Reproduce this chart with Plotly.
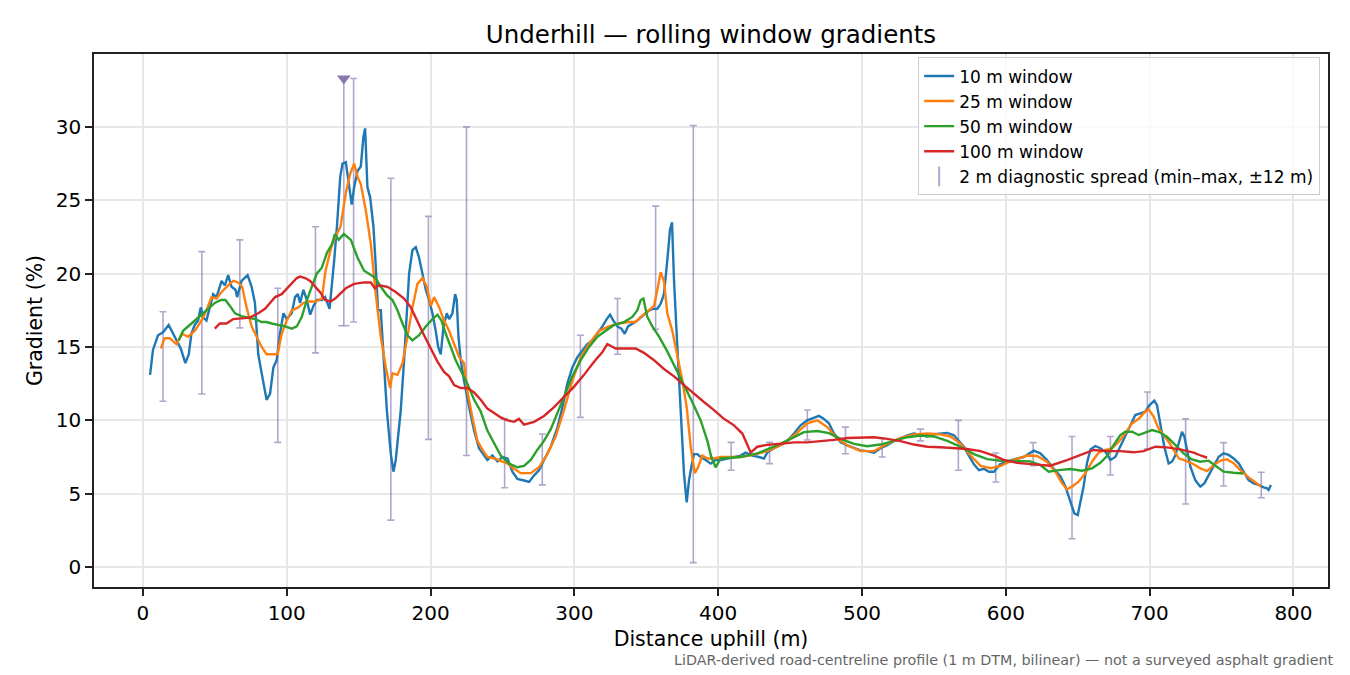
import plotly.graph_objects as go

# rolling window gradient profiles (distance in m, gradient in %)
x_10 = [5, 7, 10.5, 14, 17.9, 22, 26.3, 29.5, 31.9, 33.7, 36, 38.4, 40.2, 41.9, 44.2, 46.5, 48.8, 51.2, 52.8, 54.7,
        57, 59.3, 61.6, 64.4, 65.5, 68.6, 72.8, 75.6, 77.9, 80.2, 82.6, 86, 88.4, 90.7, 93, 95.3, 97.7, 100, 103.5,
        105.8, 107.7, 109.3, 111.6, 114, 116.3, 118.6, 121, 124.4, 126.7, 129.8, 133, 135, 137.2, 138.8, 141.1,
        143.4, 145.2, 146.9, 149.2, 151.5, 153.3, 154.5, 156.1, 158, 160.3, 161.9, 163.5, 165.4, 167.3, 169.6,
        172.4, 174.2, 175.8, 177.5, 179.3, 181.6, 183.5, 185.1, 187.4, 189.7, 192, 194.4, 196.7, 199, 201.3, 203.6,
        205.3, 207.1, 209, 211.3, 212.9, 215.2, 217.1, 218.2, 219.4, 221, 223.3, 226.8, 230.3, 233.7, 237.2, 239.5,
        243, 246.5, 250, 253.5, 256.9, 260.4, 265, 268.5, 272, 275.4, 278.9, 283.6, 288.2, 291.7, 295.1, 298.6,
        302.1, 305.6, 309, 312.5, 316, 319.5, 322.5, 324.8, 327.1, 329.9, 332.7, 335, 337.3, 340.3, 343.8, 347.3,
        350.7, 354.2, 357.7, 360, 362.3, 364.6, 366.5, 367.9, 369.3, 371.6, 373.9, 376.2, 378.1, 379.7, 381.3,
        383.2, 385.5, 387.8, 391.3, 394.8, 398.2, 401.7, 406.4, 411, 415.6, 419, 423.7, 428.3, 431.8, 434.1, 438.8,
        443.4, 448, 452.7, 457.3, 461.9, 466.6, 470.1, 473.5, 477, 480.5, 485.1, 489.7, 494.4, 499, 503.6, 508.3,
        512.9, 517.5, 522.2, 526.8, 531.5, 536.1, 540.7, 545.4, 550, 554.6, 559.3, 563.9, 567.4, 570.8, 574.3,
        577.8, 581.3, 584.7, 588.2, 591.7, 596, 605.5, 612.4, 619.4, 624, 628.6, 633.3, 637.9, 641.4, 644.9,
        647.6, 650, 651.8, 654.1, 656.4, 658.8, 662.2, 665.7, 669.2, 672.7, 676.1, 679.6, 683.1, 686.6, 690,
        693.5, 697, 700, 703.2, 705.1, 707.4, 710.2, 713.2, 715.5, 717.8, 720.2, 722.5, 724.1, 726, 728.3, 731.7,
        735.2, 738, 741, 744.5, 748, 751.4, 754.9, 758.4, 761.9, 765.3, 768.8, 772.3, 775.8, 779.2, 781.6, 782.7,
        784.3]
g_10 = [13.1, 14.8, 15.8, 16.0, 16.5, 15.7, 14.9, 13.9, 14.5, 15.9, 16.5, 16.8, 17.7, 17.0, 16.8, 17.7, 18.6, 18.4,
        18.9, 19.5, 19.2, 19.9, 19.1, 18.9, 18.4, 19.5, 19.9, 19.1, 18.0, 14.5, 13.2, 11.4, 11.8, 13.6, 14.1, 15.9,
        17.3, 16.9, 17.3, 18.4, 18.6, 18.0, 18.9, 18.2, 17.2, 17.8, 18.2, 18.2, 18.4, 17.6, 20.9, 23.3, 26.6, 27.5,
        27.6, 26.1, 24.7, 25.9, 27.0, 27.3, 29.3, 29.9, 25.9, 25.2, 23.2, 20.5, 17.5, 17.5, 14.1, 10.7, 7.7, 6.5,
        7.3, 8.9, 10.7, 14.1, 17.5, 20.0, 21.6, 21.8, 21.1, 20.0, 18.9, 18.2, 17.3, 16.1, 15.0, 14.5, 16.4, 17.3,
        16.9, 17.3, 18.6, 18.2, 15.7, 14.1, 12.7, 10.9, 9.3, 8.1, 7.6, 7.3, 7.6, 7.2, 7.5, 7.4, 6.5, 6.0, 5.9, 5.8,
        6.25, 6.6, 7.3, 8.2, 9.5, 10.9, 12.5, 13.6, 14.3, 14.8, 15.2, 15.45, 15.9, 16.4, 16.9, 17.2, 16.8, 16.4,
        16.25, 15.9, 16.4, 16.6, 16.8, 17.1, 17.4, 17.6, 17.6, 17.95, 18.6, 20.9, 23.0, 23.5, 19.5, 15.0, 10.45,
        6.4, 4.4, 5.9, 6.8, 7.7, 7.7, 7.5, 7.3, 7.05, 7.3, 7.3, 7.4, 7.5, 7.6, 7.8, 7.6, 7.5, 7.4, 7.8, 8.1, 8.3,
        8.6, 9.1, 9.66, 10.0, 10.2, 10.3, 10.1, 9.8, 9.1, 8.5, 8.3, 8.1, 7.95, 7.9, 7.8, 8.1, 8.3, 8.6, 8.8, 8.98,
        9.1, 8.98, 8.9, 9.05, 9.1, 9.14, 8.98, 8.6, 8.2, 7.6, 7.0, 6.6, 6.7, 6.5, 6.5, 7.0, 7.34, 7.5, 7.93, 7.75,
        7.3, 6.7, 6.2, 5.5, 4.5, 3.66, 3.55, 4.36, 5.5, 7.07, 8.02, 8.25, 8.1, 7.86, 7.3, 7.5, 8.2, 8.88, 9.67,
        10.36, 10.47, 10.6, 11.04, 11.34, 11.04, 9.8, 8.2, 7.06, 7.18, 7.6, 8.43, 9.22, 8.9, 7.97, 6.84, 5.93,
        5.48, 5.7, 6.27, 6.95, 7.52, 7.75, 7.64, 7.4, 7.07, 6.5, 5.93, 5.7, 5.6, 5.43, 5.36, 5.25, 5.6]

x_25 = [12.5, 15.1, 18.6, 23.3, 27.2, 31.4, 36, 40.7, 44.2, 47.7, 51.2, 54.7, 59.3, 62.8, 66.3, 69, 72.1, 75.6, 79.1,
        82.6, 86, 90.7, 93.7, 96.5, 100, 103.5, 108.1, 111.6, 115.1, 119.8, 124.4, 127, 131, 133.7, 137.4, 141.1,
        144.1, 146.9, 149.2, 151.5, 155, 158.5, 161.9, 165.4, 168.9, 171.9, 173.5, 177, 180.5, 183.9, 187.4,
        190.9, 194.4, 197.4, 200.2, 202.5, 206, 209.4, 212.9, 216.4, 219.9, 223.3, 225.6, 229.1, 232.6, 236,
        239.5, 244.2, 248.8, 253.5, 258.1, 262.7, 269.7, 275.4, 281.2, 287, 292.8, 298.6, 304.4, 310.2, 317.2,
        324.1, 331.1, 338, 342.6, 346.1, 350.7, 355.4, 357.7, 360, 362.3, 364.6, 368.1, 371.6, 375.1, 378.1,
        380.9, 383.7, 386, 389, 392.5, 397.1, 401.7, 411, 415.6, 424.9, 434.1, 443.4, 452.7, 461.9, 468.9, 475.8,
        482.8, 489.7, 499, 508.3, 517.5, 526.8, 536.1, 545.4, 554.6, 561.6, 568.5, 575.5, 582.4, 589.4, 596.3,
        605.5, 614.8, 621.7, 628.6, 634.4, 639.1, 642.5, 646, 650.6, 655.3, 659.9, 664.6, 669.2, 673.8, 678.5,
        683.1, 687.7, 692.4, 697, 699.3, 702.8, 706.2, 709.7, 713.2, 716.7, 720.2, 724.8, 729.4, 735.2, 739.9,
        744.5, 749.1, 753.8, 758.4, 763, 768.8, 774.6, 777.5]
g_25 = [14.9, 15.6, 15.6, 15.2, 15.9, 15.7, 16.1, 16.8, 17.5, 18.4, 18.3, 18.75, 19.2, 19.5, 19.4, 19.1, 17.7, 16.4,
        15.7, 15.0, 14.5, 14.5, 14.5, 15.9, 16.8, 17.5, 17.7, 18.0, 18.1, 18.1, 18.3, 20.2, 21.8, 22.5, 23.2, 25.5,
        26.8, 27.5, 26.6, 26.1, 24.3, 22.0, 18.6, 15.7, 13.6, 12.2, 13.2, 13.1, 13.9, 15.7, 17.7, 19.3, 19.7, 19.1,
        17.8, 18.4, 17.7, 16.8, 16.1, 15.2, 14.3, 13.9, 12.0, 10.2, 8.6, 8.0, 7.5, 7.4, 7.25, 7.05, 6.7, 6.4, 6.4,
        6.8, 7.7, 8.9, 10.7, 12.7, 14.3, 15.2, 16.1, 16.4, 16.6, 16.7, 16.7, 17.05, 17.4, 17.8, 18.9, 20.1, 19.5,
        17.3, 16.1, 14.5, 12.7, 10.9, 8.2, 6.4, 6.8, 7.6, 7.4, 7.4, 7.5, 7.5, 7.5, 7.66, 7.9, 8.3, 8.97, 9.8, 10.0,
        9.54, 8.74, 8.3, 7.9, 7.9, 8.4, 8.8, 9.04, 9.1, 9.04, 8.9, 8.4, 7.6, 6.9, 6.74, 6.9, 7.3, 7.6, 7.57, 7.18,
        6.5, 5.7, 5.3, 5.48, 5.82, 6.39, 7.18, 7.8, 7.98, 8.09, 8.54, 9.11, 9.79, 10.1, 10.6, 10.75, 10.25, 9.45,
        9.0, 8.54, 7.98, 7.41, 7.25, 7.07, 6.73, 6.54, 6.95, 7.25, 7.34, 7.07, 6.61, 6.11, 5.7, 5.48]

x_50 = [25, 27.9, 32.6, 36, 40.7, 45.3, 50, 54.2, 57.4, 60.5, 64, 68.6, 73.3, 77.9, 82.6, 86, 89.5, 94.2, 98.8, 103.5,
        107, 110.5, 114, 117.4, 120.9, 124.4, 127.9, 131.4, 133.5, 136.2, 139.7, 144.6, 149.2, 153.8, 158.5,
        161.9, 165.4, 170, 173.5, 177, 180.5, 183.9, 187.4, 192, 196.7, 201.3, 204.8, 207.6, 210.6, 214, 217.5,
        221, 225.6, 230.3, 234.9, 239.5, 244.2, 248.8, 254.6, 260.4, 265, 269.7, 274.3, 278.9, 283.6, 288.2,
        292.8, 298.6, 304.4, 310.2, 316, 321.8, 327.6, 334.5, 340.3, 343.8, 346.1, 348, 350.7, 354.2, 358.9,
        364.6, 370.4, 376.2, 382, 387.8, 392.5, 395.2, 398.2, 401.7, 408.7, 415.6, 427.2, 438.8, 450.4, 459.6,
        468.9, 477, 485.1, 494.4, 503.6, 512.9, 522.2, 531.5, 540.7, 550, 559.3, 568.5, 577.8, 587.1, 596.3,
        605.5, 617, 624, 629.8, 636.7, 644.9, 652.9, 659.9, 665.7, 670.3, 675, 679.6, 683.1, 687.7, 692.4, 697,
        701.6, 706.2, 712, 717.8, 723.6, 729.4, 735.2, 741, 746.8, 751.4, 758.4, 765]
g_50 = [15.45, 16.1, 16.5, 16.8, 17.2, 17.6, 18.0, 18.2, 18.2, 17.8, 17.3, 17.1, 17.0, 16.9, 16.7, 16.7, 16.6, 16.5,
        16.4, 16.25, 16.4, 17.05, 18.2, 19.1, 20.0, 20.4, 21.4, 22.0, 22.7, 22.3, 22.7, 22.3, 21.1, 20.2, 19.9,
        19.7, 19.1, 18.5, 18.2, 17.5, 16.6, 15.8, 15.45, 15.8, 16.4, 16.9, 17.2, 16.8, 15.9, 15.0, 14.1, 13.4,
        12.5, 11.4, 10.6, 9.3, 8.4, 7.6, 7.05, 6.8, 6.9, 7.3, 8.0, 8.6, 9.4, 10.45, 11.6, 13.0, 14.1, 15.0, 15.7,
        16.1, 16.5, 16.7, 17.05, 17.5, 18.2, 18.3, 17.05, 16.4, 15.7, 14.7, 13.5, 12.4, 11.25, 10.0, 8.6, 7.5,
        6.8, 7.4, 7.45, 7.5, 7.75, 8.2, 8.74, 9.2, 9.27, 9.13, 8.74, 8.4, 8.23, 8.35, 8.6, 8.85, 8.97, 8.9, 8.6,
        8.2, 7.7, 7.36, 7.25, 7.22, 7.2, 6.95, 6.5, 6.61, 6.68, 6.57, 6.73, 7.11, 7.57, 8.32, 9.0, 9.22, 9.22,
        9.0, 9.16, 9.34, 9.22, 8.88, 8.32, 7.75, 7.34, 7.18, 7.25, 6.84, 6.5, 6.43, 6.38]

x_100 = [50, 53.5, 58.1, 62.8, 68.6, 74.4, 80.2, 84.9, 88.4, 91.9, 96.5, 101.2, 104.7, 107, 109.3, 112.8, 116.3,
         119.8, 123.5, 126.7, 130.5, 133.7, 137, 141.1, 146.9, 153.8, 158.5, 161.2, 164.2, 170, 175.8, 181.6,
         186.3, 190.9, 195.5, 200.2, 204.8, 209.4, 212.9, 216.4, 221, 225.6, 230.3, 234.9, 239.5, 244.2, 248.8,
         253.5, 258.1, 261.5, 265, 272, 278.9, 285.9, 292.8, 299.8, 306.7, 313.7, 319.5, 322.9, 328.7, 335.7,
         342.6, 348.4, 355.4, 362.3, 369.3, 376.2, 383.2, 390.1, 397.1, 404, 411, 416.8, 419.5, 422.6, 427.2,
         434.1, 443.4, 452.7, 461.9, 471.2, 480.5, 489.7, 499, 508.3, 517.5, 526.8, 536.1, 545.4, 554.6, 563.9,
         573.1, 582.4, 591.7, 598.6, 607.8, 619.4, 630.9, 642.5, 651.8, 661.1, 670.3, 679.6, 688.9, 695.8, 703.9,
         712, 721.3, 730.6, 736.4, 740]
g_100 = [16.25, 16.6, 16.6, 16.9, 16.95, 17.0, 17.3, 17.6, 18.0, 18.4, 18.6, 19.1, 19.4, 19.7, 19.8, 19.7, 19.5,
         19.1, 18.7, 18.2, 18.1, 18.3, 18.6, 19.0, 19.3, 19.4, 19.4, 19.0, 19.2, 19.1, 18.75, 18.3, 17.7, 16.7,
         15.8, 14.9, 14.0, 13.3, 13.0, 12.4, 12.2, 12.2, 11.9, 11.4, 10.8, 10.5, 10.2, 10.0, 9.9, 10.1, 9.7, 9.9,
         10.3, 10.9, 11.6, 12.3, 13.1, 14.0, 14.65, 15.2, 14.9, 14.9, 14.9, 14.6, 14.1, 13.5, 13.0, 12.4, 11.8,
         11.25, 10.7, 10.1, 9.66, 9.1, 8.5, 7.8, 8.2, 8.33, 8.4, 8.5, 8.5, 8.56, 8.67, 8.8, 8.85, 8.85, 8.74, 8.58,
         8.35, 8.2, 8.17, 8.12, 8.05, 7.9, 7.6, 7.3, 7.1, 7.0, 6.91, 7.29, 7.64, 7.98, 7.9, 7.9, 7.82, 7.9, 8.2,
         8.16, 8.02, 7.8, 7.57, 7.45]

# 2 m diagnostic spread (min / max within +-12 m)
spread_x = [14, 41, 67.4, 93.8, 120, 146.5, 172.4, 198.5, 225, 251.5, 277.7, 304.2, 330, 356.5, 382.7, 409,
            435.7, 462, 488.5, 514, 540.6, 567, 593, 619, 646, 672.7, 698.4, 725, 751.4, 777.6]
spread_lo = [11.3, 11.8, 16.3, 8.5, 14.6, 16.7, 3.2, 8.7, 7.6, 5.4, 5.6, 10.2, 14.5, 16.2, 0.3, 6.6, 7.05, 8.66,
             7.72, 7.5, 8.6, 6.6, 5.8, 6.9, 1.93, 6.27, 8.04, 4.3, 5.52, 4.72]
spread_hi = [17.4, 21.5, 22.3, 19.0, 23.2, 33.3, 26.5, 23.9, 30.0, 10.1, 9.07, 15.8, 18.3, 24.6, 30.1, 8.5, 8.5,
             10.7, 9.54, 8.77, 9.4, 10.0, 7.77, 8.48, 8.9, 8.9, 11.93, 10.1, 8.48, 6.46]

# the one spread that runs off the top (flagged with a triangle)
flag_x = 139.7
flag_lo = 16.45
flag_hi = 33.3

series = [
    (x_10, g_10, "10 m window", "#1f77b4"),
    (x_25, g_25, "25 m window", "#ff7f0e"),
    (x_50, g_50, "50 m window", "#2ca02c"),
    (x_100, g_100, "100 m window", "#d62728"),
]
spread_col = "rgba(125,108,170,0.6)"
flag_col = "#8878ad"

fig = go.Figure()

spread_mid = [(a + b) / 2 for a, b in zip(spread_lo, spread_hi)]
spread_half = [(b - a) / 2 for a, b in zip(spread_lo, spread_hi)]
fig.add_trace(go.Scatter(
    x=spread_x, y=spread_mid, mode="markers",
    marker=dict(size=1, opacity=0),
    error_y=dict(type="data", array=spread_half, color=spread_col, thickness=1.6, width=3.5),
    showlegend=False, hoverinfo="skip"
))
fig.add_trace(go.Scatter(
    x=[flag_x, flag_x], y=[flag_lo, flag_hi], mode="lines",
    line=dict(color=spread_col, width=1.6), showlegend=False, hoverinfo="skip"
))
fig.add_trace(go.Scatter(
    x=[flag_x], y=[flag_lo], mode="markers",
    marker=dict(symbol="line-ew-open", size=8, color=spread_col, line=dict(color=spread_col, width=1.6)),
    showlegend=False, hoverinfo="skip"
))

for xs, ys, name, col in series:
    fig.add_trace(go.Scatter(
        x=xs, y=ys, mode="lines", name=name,
        line=dict(color=col, width=2.4)
    ))

fig.add_trace(go.Scatter(
    x=[flag_x], y=[flag_hi], mode="markers",
    marker=dict(symbol="triangle-down", size=12, color=flag_col),
    showlegend=False, hoverinfo="skip"
))

# legend entry for the error bars
fig.add_trace(go.Scatter(
    x=[None], y=[None], mode="markers", name="2 m diagnostic spread (min\u2013max, \u00b112 m)",
    marker=dict(symbol="line-ns-open", size=14, color=spread_col, line=dict(color=spread_col, width=2))
))

axis_style = dict(
    showline=True, mirror=True, linecolor="#222222", linewidth=1.6,
    ticks="outside", ticklen=7, tickwidth=1.6, tickcolor="#222222",
    showgrid=True, gridcolor="#e7e7e7", gridwidth=1.5, zeroline=False,
    tickfont=dict(size=20, color="black"),
)

fig.update_layout(
    width=1350, height=675,
    plot_bgcolor="white", paper_bgcolor="white",
    font=dict(family="DejaVu Sans", color="black"),
    margin=dict(l=94, r=22, t=54, b=88),
    title=dict(text="Underhill \u2014 rolling window gradients", x=0.5, xref="paper",
               y=1 - 34 / 675, yanchor="middle", font=dict(size=24.5)),
    xaxis=dict(range=[-34, 824], tickvals=list(range(0, 801, 100)),
               title=dict(text="Distance uphill (m)", font=dict(size=20.5), standoff=8), **axis_style),
    yaxis=dict(range=[-1.36, 34.97], tickvals=list(range(0, 31, 5)),
               title=dict(text="Gradient (%)", font=dict(size=20.5), standoff=8), **axis_style),
    legend=dict(x=0.9935, y=0.994, xanchor="right", yanchor="top",
                bgcolor="rgba(255,255,255,0.8)", bordercolor="#cccccc", borderwidth=1.2,
                font=dict(size=17)),
    showlegend=True,
)

fig.add_annotation(
    text="LiDAR-derived road-centreline profile (1 m DTM, bilinear) \u2014 not a surveyed asphalt gradient",
    xref="paper", yref="paper", x=1.0065, y=-0.137, xanchor="right", yanchor="middle",
    showarrow=False, font=dict(size=14.3, color="#666666")
)

fig.write_html("out.html", config={"displayModeBar": False},
               post_script="document.body.style.margin='0';")
